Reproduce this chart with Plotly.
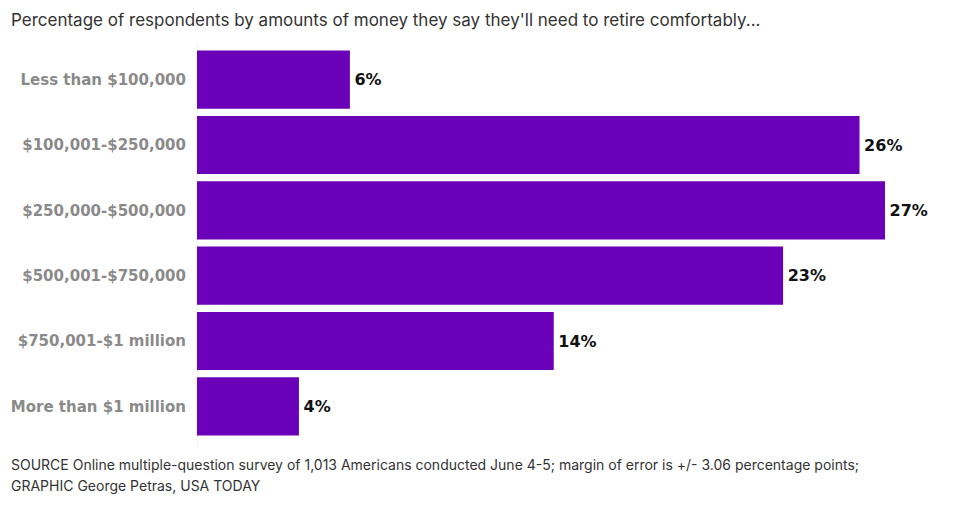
import plotly.graph_objects as go

categories = ["Less than $100,000", "$100,001-$250,000", "$250,000-$500,000",
              "$500,001-$750,000", "$750,001-$1 million", "More than $1 million"]
values = [6, 26, 27, 23, 14, 4]
value_labels = [f"\u200a<b>{v}%</b>" for v in values]
tick_labels = [f"<b>{c}</b>" for c in categories]

title_text = "Percentage of respondents by amounts of money they say they'll need to retire comfortably..."
source_lines = ["SOURCE Online multiple-question survey of 1,013 Americans conducted June 4-5; margin of error is +/- 3.06 percentage points;",
                "GRAPHIC George Petras, USA TODAY"]

L, T, PW, PH = 189, 39, 728, 392

fig = go.Figure(go.Bar(
    x=values, y=categories, orientation="h",
    marker=dict(color="#6a00b7", line=dict(width=0)),
    text=value_labels, textposition="outside", cliponaxis=False,
    textfont=dict(family="DejaVu Sans", size=16, color="#111111"),
    hoverinfo="skip",
))

annotations = [
    dict(text=title_text, xref="paper", yref="paper", x=(1 - L) / PW, y=1 + (T - 12) / PH,
         xanchor="left", yanchor="middle", showarrow=False,
         font=dict(family="Inter", size=17, color="#333333")),
]
for i, line in enumerate(source_lines):
    annotations.append(
        dict(text=line, xref="paper", yref="paper", x=(1 - L) / PW,
             y=-((456 + 21 * i) - T - PH) / PH,
             xanchor="left", yanchor="middle", showarrow=False, align="left",
             font=dict(family="Inter", size=14, color="#333333")))

fig.update_layout(
    width=955, height=512,
    margin=dict(l=L, r=955 - L - PW, t=T, b=512 - T - PH),
    plot_bgcolor="white", paper_bgcolor="white",
    bargap=0.11,
    showlegend=False,
    xaxis=dict(range=[0, 28.57], visible=False, fixedrange=True, automargin=False),
    yaxis=dict(
        categoryorder="array", categoryarray=categories, autorange="reversed",
        tickmode="array", tickvals=categories, ticktext=tick_labels,
        tickfont=dict(family="DejaVu Sans", size=15, color="#8a8a8a"),
        showgrid=False, zeroline=False, showline=False, ticks="outside",
        ticklen=7, tickcolor="rgba(0,0,0,0)", automargin=False,
    ),
    shapes=[dict(type="line", xref="x", yref="paper", x0=0, x1=0, y0=-0.02, y1=1.01,
                 line=dict(color="#e8e8e8", width=1), layer="below")],
    annotations=annotations,
)

fig.write_html("out.html")
